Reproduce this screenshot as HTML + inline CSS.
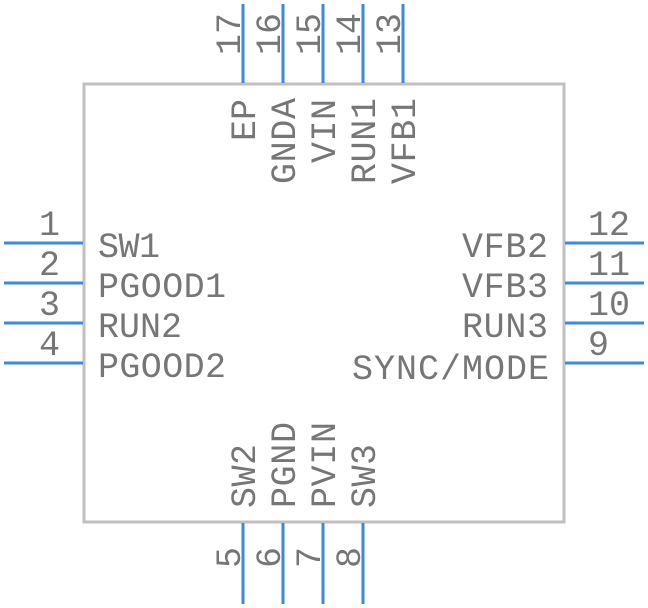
<!DOCTYPE html>
<html><head><meta charset="utf-8"><style>
html,body{margin:0;padding:0;background:#fff;}
svg{display:block;}
text{font-family:"Liberation Mono",monospace;font-size:35px;fill:#767676;lengthAdjust:spacingAndGlyphs;}
</style></head><body>
<svg width="648" height="608" viewBox="0 0 648 608" xmlns="http://www.w3.org/2000/svg">
<rect x="84" y="84" width="480" height="438" fill="none" stroke="#c0c0c0" stroke-width="3"/>
<g stroke="#3c88e8" stroke-width="3">
<line x1="4" y1="243" x2="83" y2="243"/>
<line x1="4" y1="283" x2="83" y2="283"/>
<line x1="4" y1="323" x2="83" y2="323"/>
<line x1="4" y1="363" x2="83" y2="363"/>
<line x1="565" y1="243" x2="644" y2="243"/>
<line x1="565" y1="283" x2="644" y2="283"/>
<line x1="565" y1="323" x2="644" y2="323"/>
<line x1="565" y1="363" x2="644" y2="363"/>
<line x1="243" y1="4" x2="243" y2="83"/>
<line x1="283" y1="4" x2="283" y2="83"/>
<line x1="323" y1="4" x2="323" y2="83"/>
<line x1="363" y1="4" x2="363" y2="83"/>
<line x1="403" y1="4" x2="403" y2="83"/>
<line x1="243" y1="523" x2="243" y2="604"/>
<line x1="283" y1="523" x2="283" y2="604"/>
<line x1="323" y1="523" x2="323" y2="604"/>
<line x1="363" y1="523" x2="363" y2="604"/>
</g>
<!-- left -->
<text x="60" y="235" text-anchor="end">1</text>
<text x="60" y="275" text-anchor="end">2</text>
<text x="60" y="315" text-anchor="end">3</text>
<text x="60" y="355" text-anchor="end">4</text>
<text x="98" y="257" textLength="62">SW1</text>
<text x="98" y="297" textLength="128">PGOOD1</text>
<text x="98" y="337" textLength="84">RUN2</text>
<text x="98" y="377" textLength="128">PGOOD2</text>
<!-- right -->
<text x="588" y="235" textLength="42">12</text>
<text x="588" y="275" textLength="42">11</text>
<text x="588" y="315" textLength="42">10</text>
<text x="588" y="355">9</text>
<text x="462" y="257" textLength="86">VFB2</text>
<text x="462" y="297" textLength="86">VFB3</text>
<text x="462" y="337" textLength="86">RUN3</text>
<text x="352" y="379" textLength="197">SYNC/MODE</text>
<!-- top numbers -->
<text transform="translate(240,55) rotate(-90)" textLength="42">17</text>
<text transform="translate(280,55) rotate(-90)" textLength="42">16</text>
<text transform="translate(320,55) rotate(-90)" textLength="42">15</text>
<text transform="translate(360,55) rotate(-90)" textLength="42">14</text>
<text transform="translate(400,55) rotate(-90)" textLength="42">13</text>
<!-- top labels -->
<text transform="translate(255,141) rotate(-90)" textLength="42">EP</text>
<text transform="translate(295,184) rotate(-90)" textLength="86">GNDA</text>
<text transform="translate(335,163) rotate(-90)" textLength="64">VIN</text>
<text transform="translate(375,184) rotate(-90)" textLength="86">RUN1</text>
<text transform="translate(415,184) rotate(-90)" textLength="86">VFB1</text>
<!-- bottom labels -->
<text transform="translate(255,508) rotate(-90)" textLength="64">SW2</text>
<text transform="translate(295,508) rotate(-90)" textLength="86">PGND</text>
<text transform="translate(335,508) rotate(-90)" textLength="86">PVIN</text>
<text transform="translate(375,508) rotate(-90)" textLength="64">SW3</text>
<!-- bottom numbers -->
<text transform="translate(240,568) rotate(-90)">5</text>
<text transform="translate(280,568) rotate(-90)">6</text>
<text transform="translate(320,568) rotate(-90)">7</text>
<text transform="translate(360,568) rotate(-90)">8</text>
</svg>
</body></html>
